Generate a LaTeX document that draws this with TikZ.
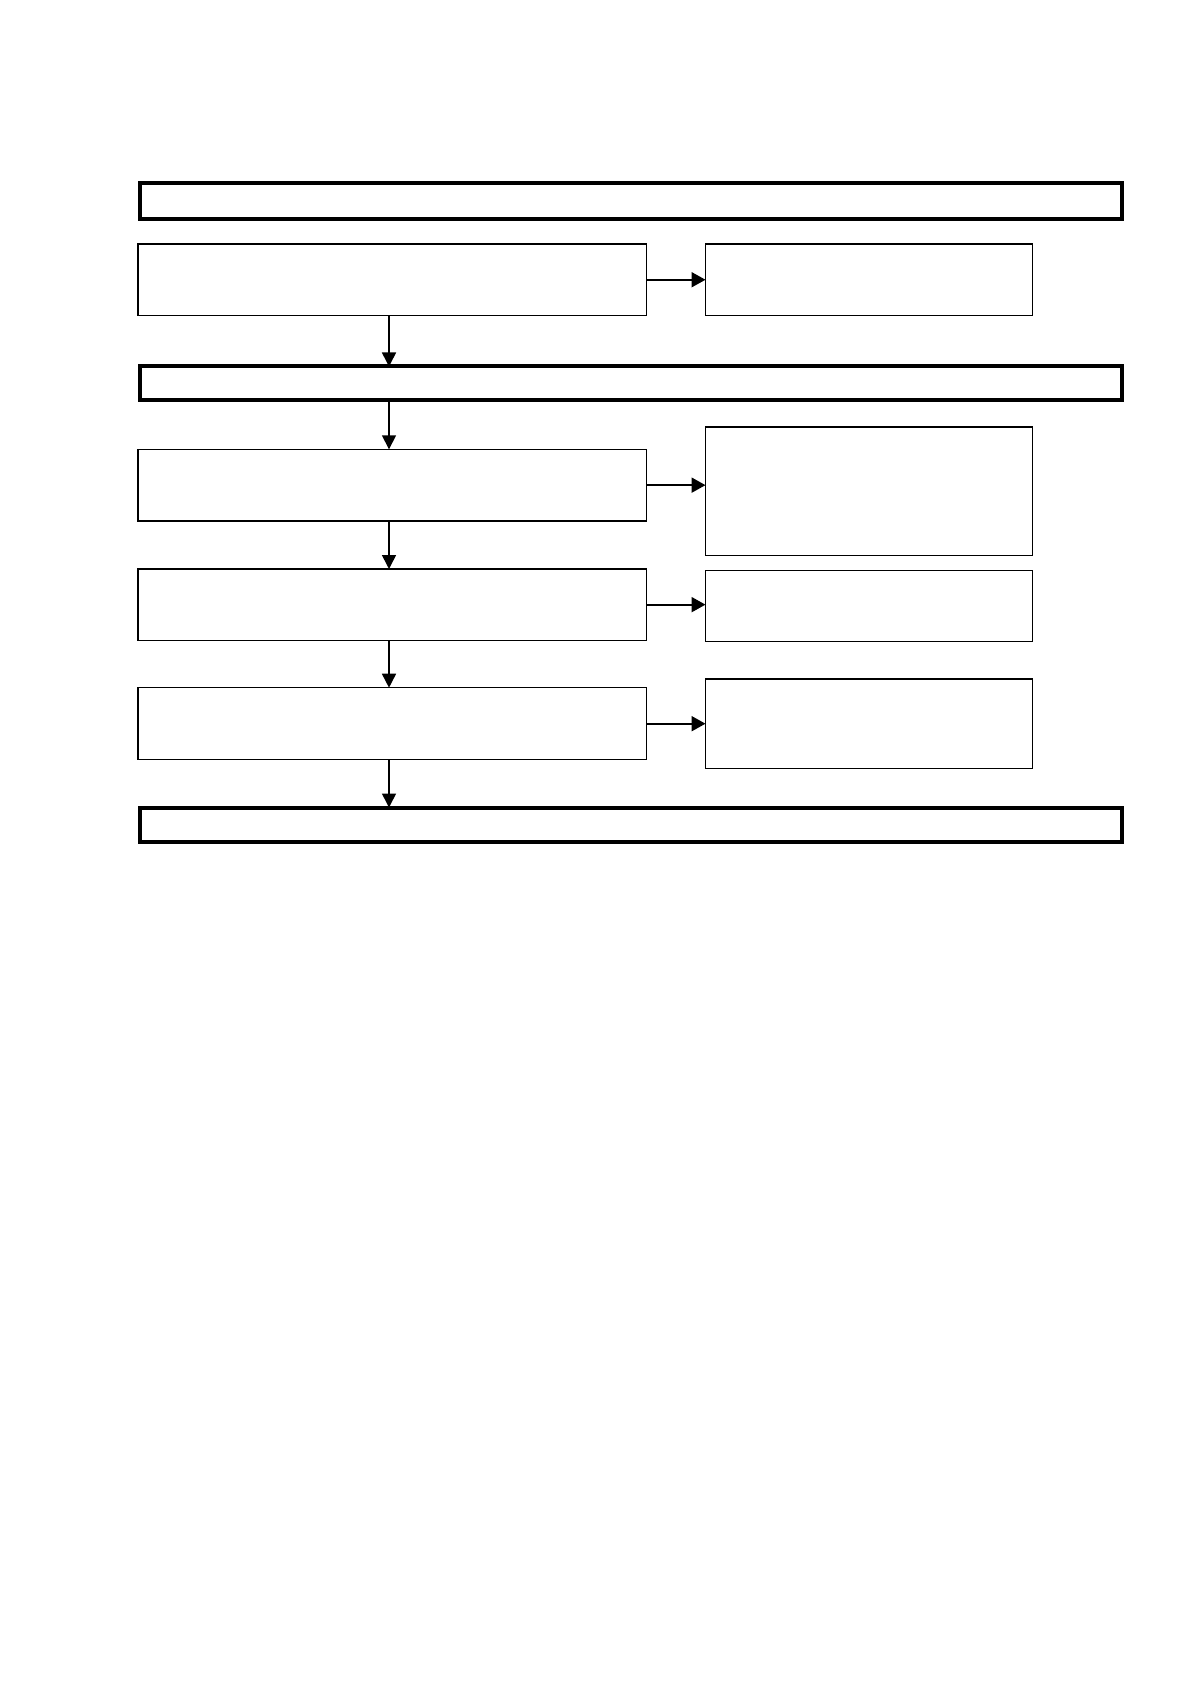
\documentclass[tikz,border=0pt]{standalone}
\usetikzlibrary{arrows.meta,fit}
\begin{document}
\begin{tikzpicture}[x=0.5pt,y=-0.5pt,
  thinbox/.style={draw=black,line width=0.7pt,inner sep=0pt,outer sep=0pt},
  thickbox/.style={draw=black,line width=2pt,inner sep=0pt,outer sep=0pt},
  arr/.style={line width=0.8pt,-{Triangle[length=7pt,width=7pt]}},
  harr/.style={line width=1pt,-{Triangle[length=7pt,width=7.5pt]}}]
\useasboundingbox[fill=white] (0,0) rectangle (1191,1684);
% wide thick boxes
\node[thickbox,fit={(139.5,183.5) (1121.5,219.2)}] (T1) {};
\node[thickbox,fit={(139.5,366.5) (1121.5,400)}] (T2) {};
\node[thickbox,fit={(139.5,807.5) (1121.5,841.5)}] (T3) {};
% left column
\node[thinbox,fit={(138,244) (646.5,315.5)}] (A1) {};
\node[thinbox,fit={(138,449.3) (646.5,521)}] (A2) {};
\node[thinbox,fit={(138,569) (646.5,640.3)}] (A3) {};
\node[thinbox,fit={(138,687.7) (646.5,759.7)}] (A4) {};
% right column
\node[thinbox,fit={(705.5,244) (1032.5,315.5)}] (B1) {};
\node[thinbox,fit={(705.5,427) (1032.5,555.3)}] (B2) {};
\node[thinbox,fit={(705.5,570.3) (1032.5,641.7)}] (B3) {};
\node[thinbox,fit={(705.5,679) (1032.5,768.3)}] (B4) {};
% vertical connector axis
\coordinate (vx) at (389,0);
\draw[arr] (A1.south -| vx) -- (T2.north -| vx);
\draw[arr] (T2.south -| vx) -- (A2.north -| vx);
\draw[arr] (A2.south -| vx) -- (A3.north -| vx);
\draw[arr] (A3.south -| vx) -- (A4.north -| vx);
\draw[arr] (A4.south -| vx) -- (T3.north -| vx);
% horizontal connectors
\draw[harr] (A1.east) -- (A1.east -| B1.west);
\draw[harr] (A2.east) -- (A2.east -| B2.west);
\draw[harr] (A3.east) -- (A3.east -| B3.west);
\draw[harr] (A4.east) -- (A4.east -| B4.west);
\end{tikzpicture}
\end{document}
